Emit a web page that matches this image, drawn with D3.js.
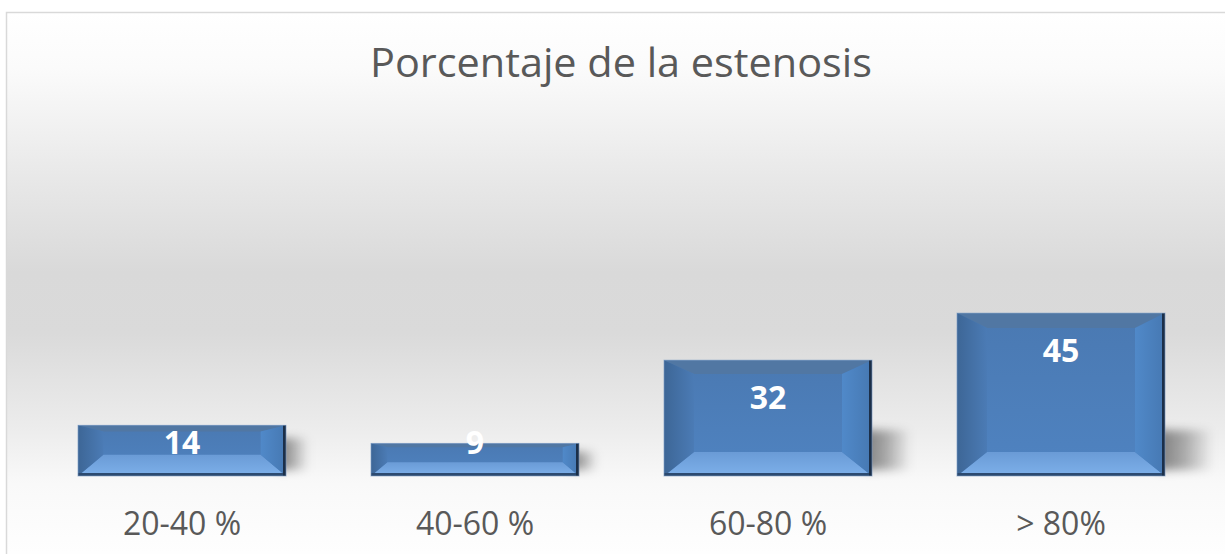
<!DOCTYPE html>
<meta charset="utf-8">
<style>
  body { margin: 0; background: #fff; }
  svg { display: block; }
</style>
<body>
<script src="https://cdn.jsdelivr.net/npm/d3@7"></script>
<script>

// datos del gráfico
var categories = ["20-40 %", "40-60 %", "60-80 %", "> 80%"];
var values = [14, 9, 32, 45];
var title = "Porcentaje de la estenosis";

var width = 1225,
    height = 554;

var svg = d3.select("body").append("svg")
    .attr("width", width)
    .attr("height", height);

var defs = svg.append("defs");

// fondo degradado estilo Office
var bg = defs.append("linearGradient")
    .attr("id", "bg")
    .attr("x1", 0).attr("y1", 0).attr("x2", 0).attr("y2", 1);
[[0, "#ffffff"], [0.1, "#fbfbfb"], [0.3, "#e8e8e8"], [0.47, "#d9d9d9"], [0.58, "#dadada"],
 [0.75, "#ececec"], [0.85, "#f9f9f9"], [1, "#ffffff"]].forEach(function(s) {
  bg.append("stop").attr("offset", s[0]).attr("stop-color", s[1]);
});

var face = defs.append("linearGradient")
    .attr("id", "face")
    .attr("x1", 0).attr("y1", 0).attr("x2", 0).attr("y2", 1);
face.append("stop").attr("offset", 0).attr("stop-color", "#4a79b2");
face.append("stop").attr("offset", 1).attr("stop-color", "#4f83c1");

var bottomBevel = defs.append("linearGradient")
    .attr("id", "bevelB")
    .attr("x1", 0).attr("y1", 0).attr("x2", 0).attr("y2", 1);
bottomBevel.append("stop").attr("offset", 0).attr("stop-color", "#6a9bd6");
bottomBevel.append("stop").attr("offset", 1).attr("stop-color", "#7db0ea");

var leftBevel = defs.append("linearGradient")
    .attr("id", "bevelL")
    .attr("x1", 0).attr("y1", 0).attr("x2", 1).attr("y2", 0);
leftBevel.append("stop").attr("offset", 0).attr("stop-color", "#3d6696");
leftBevel.append("stop").attr("offset", 1).attr("stop-color", "#4b7bb5");

var rightBevel = defs.append("linearGradient")
    .attr("id", "bevelR")
    .attr("x1", 0).attr("y1", 0).attr("x2", 1).attr("y2", 0);
rightBevel.append("stop").attr("offset", 0).attr("stop-color", "#5089c9");
rightBevel.append("stop").attr("offset", 1).attr("stop-color", "#4678b2");

var shadowGrad = defs.append("linearGradient")
    .attr("id", "shadow")
    .attr("x1", 0).attr("y1", 0).attr("x2", 1).attr("y2", 0);
shadowGrad.append("stop").attr("offset", 0).attr("stop-color", "#000").attr("stop-opacity", 0.5);
shadowGrad.append("stop").attr("offset", 0.5).attr("stop-color", "#000").attr("stop-opacity", 0.3);
shadowGrad.append("stop").attr("offset", 1).attr("stop-color", "#000").attr("stop-opacity", 0);

defs.append("filter")
    .attr("id", "blur")
    .attr("x", "-50%").attr("y", "-50%").attr("width", "200%").attr("height", "200%")
  .append("feGaussianBlur")
    .attr("stdDeviation", 5);

svg.append("rect")
    .attr("x", 6.5)
    .attr("y", 12.5)
    .attr("width", width)
    .attr("height", height)
    .attr("fill", "url(#bg)")
    .attr("stroke", "#d9d9d9")
    .attr("stroke-width", 1.5);

svg.append("text")
    .attr("x", 621)
    .attr("y", 77)
    .attr("text-anchor", "middle")
    .attr("font-family", "'Open Sans', sans-serif")
    .attr("font-size", 40)
    .attr("fill", "#595959")
    .attr("textLength", 502)
    .attr("lengthAdjust", "spacingAndGlyphs")
    .text(title);

var x = d3.scaleBand()
    .domain(categories)
    .range([35.5, 1207.5])
    .paddingInner(0.29)
    .paddingOuter(0.145);

var y = d3.scaleLinear()
    .domain([0, 50])
    .range([476, 295]);

var bars = svg.append("g")
  .selectAll("g")
  .data(values)
  .enter().append("g")
    .attr("transform", function(d, i) { return "translate(" + x(categories[i]) + "," + y(d) + ")"; });

var bw = x.bandwidth();

// sombra difusa a la derecha
bars.append("rect")
    .attr("x", bw - 10)
    .attr("y", function(d) { var h = y(0) - y(d); return h - Math.min(46, h * 0.75); })
    .attr("width", function(d) { var h = y(0) - y(d); return Math.min(58, 20 + h * 0.25); })
    .attr("height", function(d) { var h = y(0) - y(d); return Math.min(46, h * 0.75) - 6; })
    .attr("fill", "url(#shadow)")
    .attr("filter", "url(#blur)");

bars.each(function(d) {
  var g = d3.select(this),
      h = y(0) - y(d),
      side = Math.min(30, h * 0.5),
      top = Math.min(15, h * 0.12),
      bot = Math.min(24, h * 0.42);

  g.append("rect")
      .attr("width", bw)
      .attr("height", h)
      .attr("fill", "url(#face)");

  // bisel superior
  g.append("path")
      .attr("d", "M0,0 L" + bw + ",0 L" + (bw - side) + "," + top + " L" + side + "," + top + "Z")
      .attr("fill", "#52779f")
      .attr("opacity", 0.8);
  // bisel inferior
  g.append("path")
      .attr("d", "M0," + h + " L" + bw + "," + h + " L" + (bw - side) + "," + (h - bot) + " L" + side + "," + (h - bot) + "Z")
      .attr("fill", "url(#bevelB)");
  // bisel izquierdo
  g.append("path")
      .attr("d", "M0,0 L" + side + "," + top + " L" + side + "," + (h - bot) + " L0," + h + "Z")
      .attr("fill", "url(#bevelL)");
  // bisel derecho
  g.append("path")
      .attr("d", "M" + bw + ",0 L" + (bw - side) + "," + top + " L" + (bw - side) + "," + (h - bot) + " L" + bw + "," + h + "Z")
      .attr("fill", "url(#bevelR)");

  // bordes oscuros
  g.append("rect")
      .attr("x", 0).attr("y", h - 3)
      .attr("width", bw).attr("height", 3)
      .attr("fill", "#2c4a70");
  g.append("rect")
      .attr("x", bw - 3).attr("y", 0)
      .attr("width", 3).attr("height", h)
      .attr("fill", "#1c2f48");
  g.append("rect")
      .attr("width", bw).attr("height", h)
      .attr("fill", "none")
      .attr("stroke", "#7f9fc6")
      .attr("stroke-width", 1)
      .attr("opacity", 0.6);
});

// etiquetas de valor
svg.append("g")
  .selectAll("text")
  .data(values)
  .enter().append("text")
    .attr("x", function(d, i) { return x(categories[i]) + bw / 2; })
    .attr("y", function(d) { return Math.min(y(d) + 38, y(0) - 33); })
    .attr("dy", "0.35em")
    .attr("text-anchor", "middle")
    .attr("font-family", "'Open Sans', sans-serif")
    .attr("font-weight", "bold")
    .attr("font-size", 32)
    .attr("fill", "#fff")
    .text(function(d) { return d; });

// etiquetas de categoría
svg.append("g")
  .selectAll("text")
  .data(categories)
  .enter().append("text")
    .attr("x", function(d) { return x(d) + bw / 2; })
    .attr("y", 535)
    .attr("text-anchor", "middle")
    .attr("font-family", "'Open Sans', sans-serif")
    .attr("font-size", 32)
    .attr("fill", "#595959")
    .text(function(d) { return d; });

</script>
</body>
